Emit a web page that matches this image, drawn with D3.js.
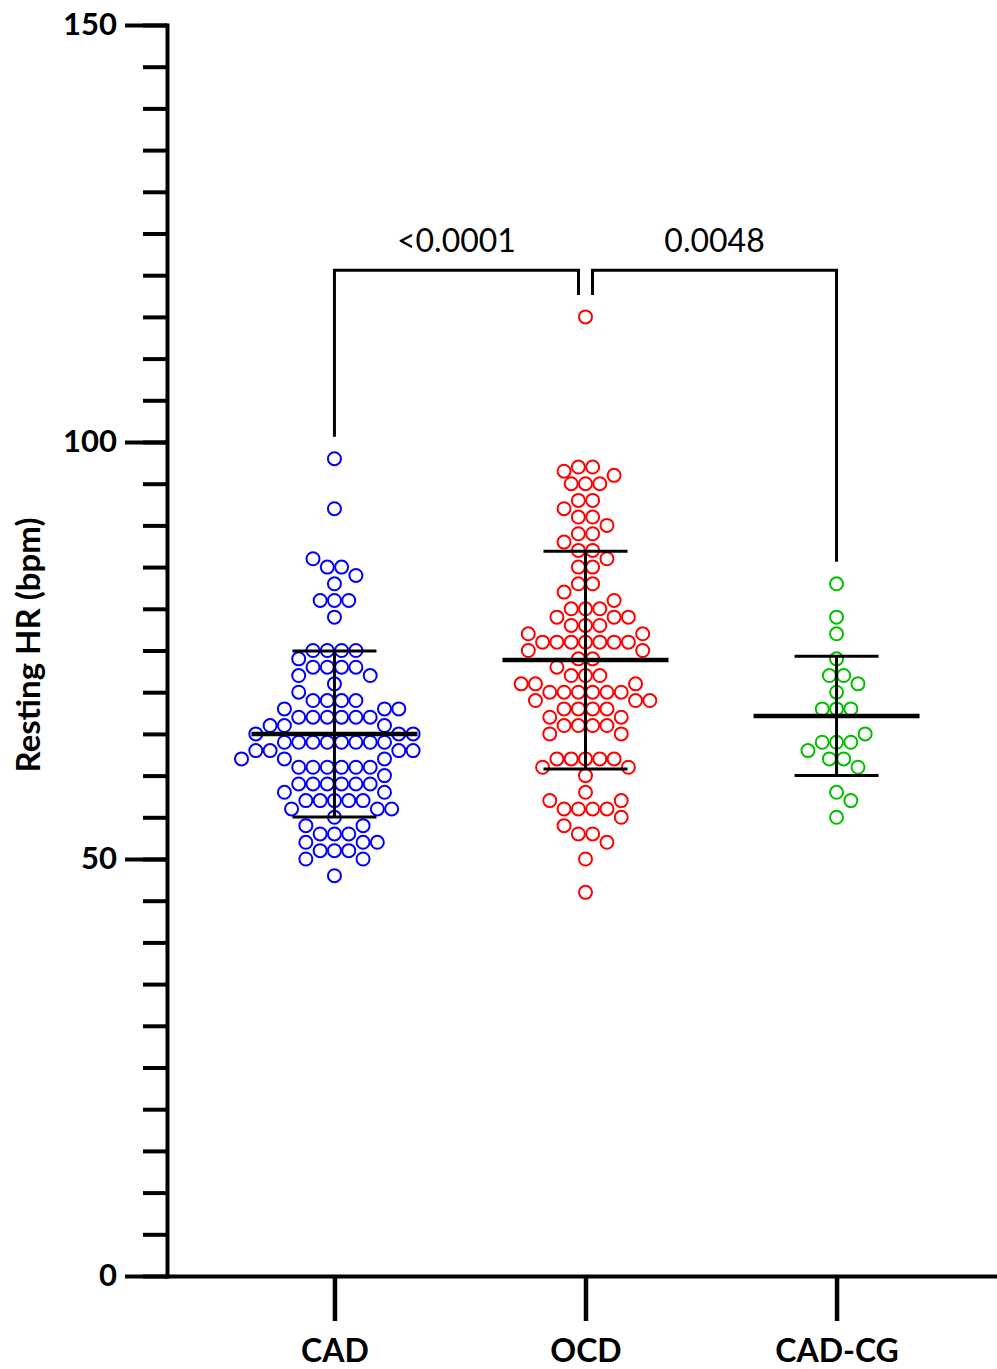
<!DOCTYPE html>
<html><head><meta charset="utf-8">
<script src="https://cdn.jsdelivr.net/npm/d3@7"></script>
<style>body{margin:0;background:#fff;} svg{display:block;}</style>
</head><body>
<svg id="chart" width="997" height="1369"></svg>
<script>
// ---------------- data ----------------
const categories = ["CAD", "OCD", "CAD-CG"];
const cadValues = [98, 92, 86, 85, 85, 84, 83, 81, 81, 81, 79,
  75, 75, 75, 75, 74, 73, 73, 73, 73, 72, 72, 71, 70,
  69, 69, 69, 69, 68, 68, 68, 67, 67, 67, 67, 67, 67, 66, 66, 66, 65, 65, 65,
  64, 64, 64, 64, 64, 64, 64, 64, 63, 63, 63, 63, 62, 62, 62,
  61, 61, 61, 61, 61, 61, 60, 59, 59, 59, 59, 59, 59, 58, 58,
  57, 57, 57, 57, 57, 56, 56, 56, 55, 54, 54, 53, 53, 53, 52, 52, 52,
  51, 51, 51, 50, 50, 48];
const ocdValues = [115, 97, 97, 96.5, 96, 95, 95, 95, 93, 93, 92, 91, 91, 90, 89, 89, 88,
  87, 87, 86, 85, 85, 83, 83, 82, 81, 80, 80, 80, 79, 79, 79, 78, 78, 78, 77, 77,
  76, 76, 76, 76, 76, 76, 76, 75, 75, 74, 74, 73, 72, 72, 72, 71, 71, 71,
  70, 70, 70, 70, 70, 70, 69, 69, 69, 68, 68, 68, 68, 67, 67, 66, 66, 66, 66, 65, 65,
  62, 62, 62, 62, 62, 61, 61, 60, 58, 57, 57, 56, 56, 56, 56, 55, 54, 53, 53, 52, 50, 46];
const cadcgValues = [83, 79, 77, 74, 72, 72, 71, 70, 68, 68, 68, 65, 64, 64, 64, 63, 62, 62, 61, 58, 57, 55];
const meanValues = [65.0, 73.85, 67.15];
const sdValues = [9.95, 13.05, 7.15];
const yMajorTicks = [0, 50, 100, 150];
const yMinorTicks = d3.range(0, 151, 5);
const comparisons = [["CAD", "OCD"], ["OCD", "CAD-CG"]];
const pLabels = ["<0.0001", "0.0048"];
const groupColors = ["#0000ff", "#ff0000", "#00c000"];
const yTitle = "Resting HR (bpm)";

// ---------------- scales ----------------
const svg = d3.select("#chart");
const y = d3.scaleLinear().domain([0, 150]).range([1276, 25]);
const x = d3.scalePoint().domain(categories).range([167, 1004]).padding(0.667);
const groups = [cadValues, ocdValues, cadcgValues];

const R = 6.5, SPACING = 14.3, STEP = SPACING / 2;

function swarmLayout(values, cx) {
  const placed = [];
  const rows = d3.groups(values, v => v).map(([v, arr]) => ({ v, n: arr.length }));
  rows.sort((a, b) => b.n - a.n || b.v - a.v);
  rows.forEach((row, ri) => {
    const yy = y(row.v);
    const collides = px => placed.some(p => Math.hypot(p.x - px, p.y - yy) < SPACING - 0.5);
    let offs = null;
    for (const shift of [0, -STEP, STEP]) {
      const block = d3.range(row.n).map(i => shift + (i - (row.n - 1) / 2) * SPACING);
      if (block.every(o => !collides(cx + o))) { offs = block; break; }
    }
    if (!offs) {
      offs = [];
      const sgn = ri % 2 ? 1 : -1;
      const cands = d3.range(-40, 41).map(k => k * STEP)
        .sort((a, b) => Math.abs(a) - Math.abs(b) || sgn * (a - b));
      for (let i = 0; i < row.n; i++) {
        const o = cands.find(c => !collides(cx + c) && !offs.some(q => Math.abs(q - c) < SPACING - 0.5));
        offs.push(o);
      }
    }
    offs.forEach(o => placed.push({ x: cx + o, y: yy, v: row.v }));
  });
  return placed;
}

// ---------------- points ----------------
groups.forEach((vals, gi) => {
  const pts = swarmLayout(vals, x(categories[gi]));
  svg.append("g").selectAll("circle").data(pts).join("circle")
    .attr("cx", d => d.x).attr("cy", d => d.y).attr("r", R)
    .attr("fill", "none").attr("stroke", groupColors[gi]).attr("stroke-width", 2);
});

// ---------------- mean & SD ----------------
const stats = svg.append("g").attr("stroke", "#000").attr("fill", "none");
categories.forEach((c, i) => {
  const cx = x(c), m = meanValues[i], s = sdValues[i];
  stats.append("line").attr("x1", cx).attr("x2", cx).attr("y1", y(m + s)).attr("y2", y(m - s)).attr("stroke-width", 3);
  stats.append("line").attr("x1", cx - 42).attr("x2", cx + 42).attr("y1", y(m + s)).attr("y2", y(m + s)).attr("stroke-width", 3);
  stats.append("line").attr("x1", cx - 42).attr("x2", cx + 42).attr("y1", y(m - s)).attr("y2", y(m - s)).attr("stroke-width", 3);
  stats.append("line").attr("x1", cx - 83).attr("x2", cx + 83).attr("y1", y(m)).attr("y2", y(m)).attr("stroke-width", 4.5);
});

// ---------------- axes ----------------
const yMinor = svg.append("g").attr("transform", "translate(167,0)")
  .call(d3.axisLeft(y).tickValues(yMinorTicks).tickSize(24).tickSizeOuter(0).tickFormat(""));
yMinor.select(".domain").remove();
yMinor.selectAll("line").attr("stroke", "#000").attr("stroke-width", 4);

const yMajor = svg.append("g").attr("transform", "translate(167,0)")
  .call(d3.axisLeft(y).tickValues(yMajorTicks).tickSize(42).tickSizeOuter(0).tickPadding(8));
yMajor.select(".domain").attr("stroke", "#000").attr("stroke-width", 4).attr("stroke-linecap", "square");
yMajor.selectAll("line").attr("stroke", "#000").attr("stroke-width", 4);
yMajor.selectAll("text").attr("font-family", "Lato, sans-serif").attr("font-weight", "bold")
  .attr("font-size", 31).attr("fill", "#000");

const xAxis = svg.append("g").attr("transform", "translate(0,1276)")
  .call(d3.axisBottom(x).tickSize(45).tickSizeOuter(0));
xAxis.select(".domain").attr("stroke", "#000").attr("stroke-width", 4).attr("stroke-linecap", "square");
xAxis.selectAll("line").attr("stroke", "#000").attr("stroke-width", 4.5);
xAxis.selectAll("text").attr("y", 86).attr("dy", 0).attr("font-family", "Lato, sans-serif")
  .attr("font-weight", "bold").attr("font-size", 32).attr("fill", "#000");

svg.append("text").attr("transform", "translate(40,645) rotate(-90)")
  .attr("text-anchor", "middle").attr("font-family", "Lato, sans-serif").attr("font-weight", "bold")
  .attr("font-size", 33).text(yTitle);

// ---------------- significance brackets ----------------
const brY = y(120.6);
const brG = svg.append("g").attr("fill", "none").attr("stroke", "#000").attr("stroke-width", 3);
comparisons.forEach(([a, b], i) => {
  const ia = categories.indexOf(a), ib = categories.indexOf(b);
  const xa = x(a) + (i === 1 ? 7 : 0), xb = x(b) - (i === 0 ? 7 : 0);
  const ya = y(d3.max(groups[ia])) - 22, yb = y(d3.max(groups[ib])) - 22;
  brG.append("path").attr("d", `M${xa},${ya}V${brY}H${xb}V${yb}`);
  svg.append("text").attr("x", (xa + xb) / 2).attr("y", brY - 18).attr("text-anchor", "middle")
    .attr("font-family", "Lato, sans-serif").attr("font-size", 32).text(pLabels[i]);
});
</script>
</body></html>
